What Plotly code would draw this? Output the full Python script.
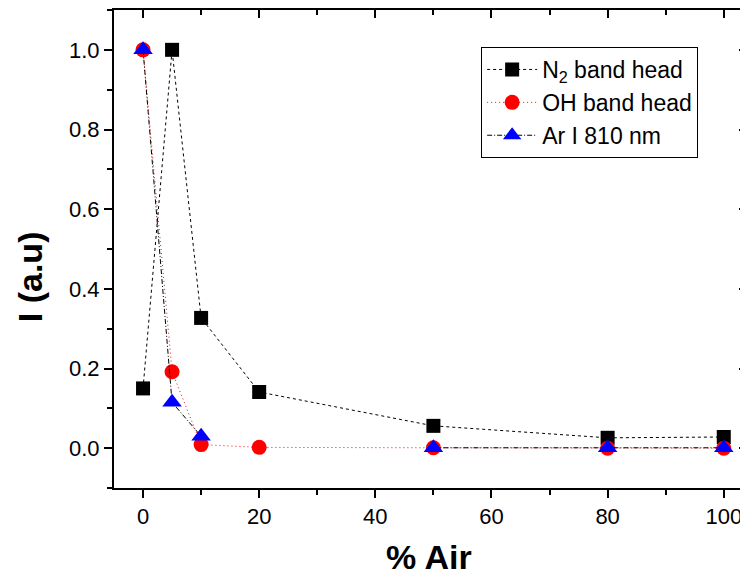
import plotly.graph_objects as go

air_n2 = [0, 5, 10, 20, 50, 80, 100]
n2_vals = [0.15, 1.0, 0.327, 0.141, 0.056, 0.026, 0.028]

air_oh = [0, 5, 10, 20, 50, 80, 100]
oh_vals = [1.0, 0.192, 0.009, 0.002, 0.001, 0.0, 0.0]

air_ar = [0, 5, 10, 20, 50, 80, 100]
ar_vals = [1.0, 0.115, 0.03, None, 0.001, 0.001, 0.001]

x_ticks = [0, 20, 40, 60, 80, 100]
y_ticks = [0.0, 0.2, 0.4, 0.6, 0.8, 1.0]

FONT = "Liberation Sans, Arial, sans-serif"

fig = go.Figure()
fig.add_trace(go.Scatter(
    x=air_n2, y=n2_vals, mode="lines+markers", name="N<sub>2</sub> band head",
    line=dict(color="black", width=1, dash="3px,3px"),
    marker=dict(symbol="square", size=14, color="black"),
))
fig.add_trace(go.Scatter(
    x=air_oh, y=oh_vals, mode="lines+markers", name="OH band head",
    line=dict(color="red", width=1, dash="1px,3px"),
    marker=dict(symbol="circle", size=15, color="red"),
))
fig.add_trace(go.Scatter(
    x=air_ar, y=ar_vals, mode="lines+markers", name="Ar I 810 nm",
    line=dict(color="black", width=1, dash="5px,2px,1px,2px"),
    marker=dict(symbol="triangle-up", size=17, color="blue"),
    connectgaps=False,
))
# invisible trace to anchor mirror axes
fig.add_trace(go.Scatter(x=[], y=[], xaxis="x2", yaxis="y2", showlegend=False, hoverinfo="skip"))

axis_common = dict(showgrid=False, zeroline=False, linecolor="black", linewidth=2,
                   tickcolor="black", tickwidth=2, ticklen=8, automargin=False,
                   tickfont=dict(family=FONT, size=22, color="black"))

fig.update_layout(
    width=740, height=569,
    margin=dict(l=106, r=1, t=2, b=89),
    paper_bgcolor="white", plot_bgcolor="white",
    font=dict(family=FONT, color="black"),
    xaxis=dict(range=[-5, 104], tickvals=x_ticks, ticks="outside",
               minor=dict(dtick=10, tick0=0, ticks="outside", ticklen=5, tickwidth=2, tickcolor="black"),
               **axis_common),
    yaxis=dict(range=[-0.1, 1.1], tickvals=y_ticks, tickformat=".1f", ticks="outside",
               minor=dict(dtick=0.1, tick0=0, ticks="outside", ticklen=5, tickwidth=2, tickcolor="black"),
               **axis_common),
    xaxis2=dict(range=[-5, 104], overlaying="x", side="top", anchor="y2", tickvals=x_ticks,
                ticks="inside", showticklabels=False,
                minor=dict(dtick=10, tick0=0, ticks="inside", ticklen=5, tickwidth=2, tickcolor="black"),
                **axis_common),
    yaxis2=dict(range=[-0.1, 1.1], overlaying="y", side="right", anchor="x2", tickvals=y_ticks,
                ticks="inside", showticklabels=False,
                minor=dict(dtick=0.1, tick0=0, ticks="inside", ticklen=5, tickwidth=2, tickcolor="black"),
                **axis_common),
    legend=dict(x=0.58, y=0.9226, xanchor="left", yanchor="top",
                bgcolor="white", bordercolor="black", borderwidth=1,
                font=dict(family=FONT, size=23, color="black"),
                tracegroupgap=0, itemwidth=50),
    showlegend=True,
    annotations=[
        dict(text="<b>% Air</b>", xref="paper", yref="paper", x=0.4975, y=-0.145,
             xanchor="center", yanchor="middle", showarrow=False,
             font=dict(family=FONT, size=34, color="black")),
        dict(text="<b>I (a.u)</b>", xref="paper", yref="paper", x=-0.1327, y=0.441,
             xanchor="center", yanchor="middle", showarrow=False, textangle=-90,
             font=dict(family=FONT, size=34, color="black")),
    ],
)

fig.write_html("out.html")
